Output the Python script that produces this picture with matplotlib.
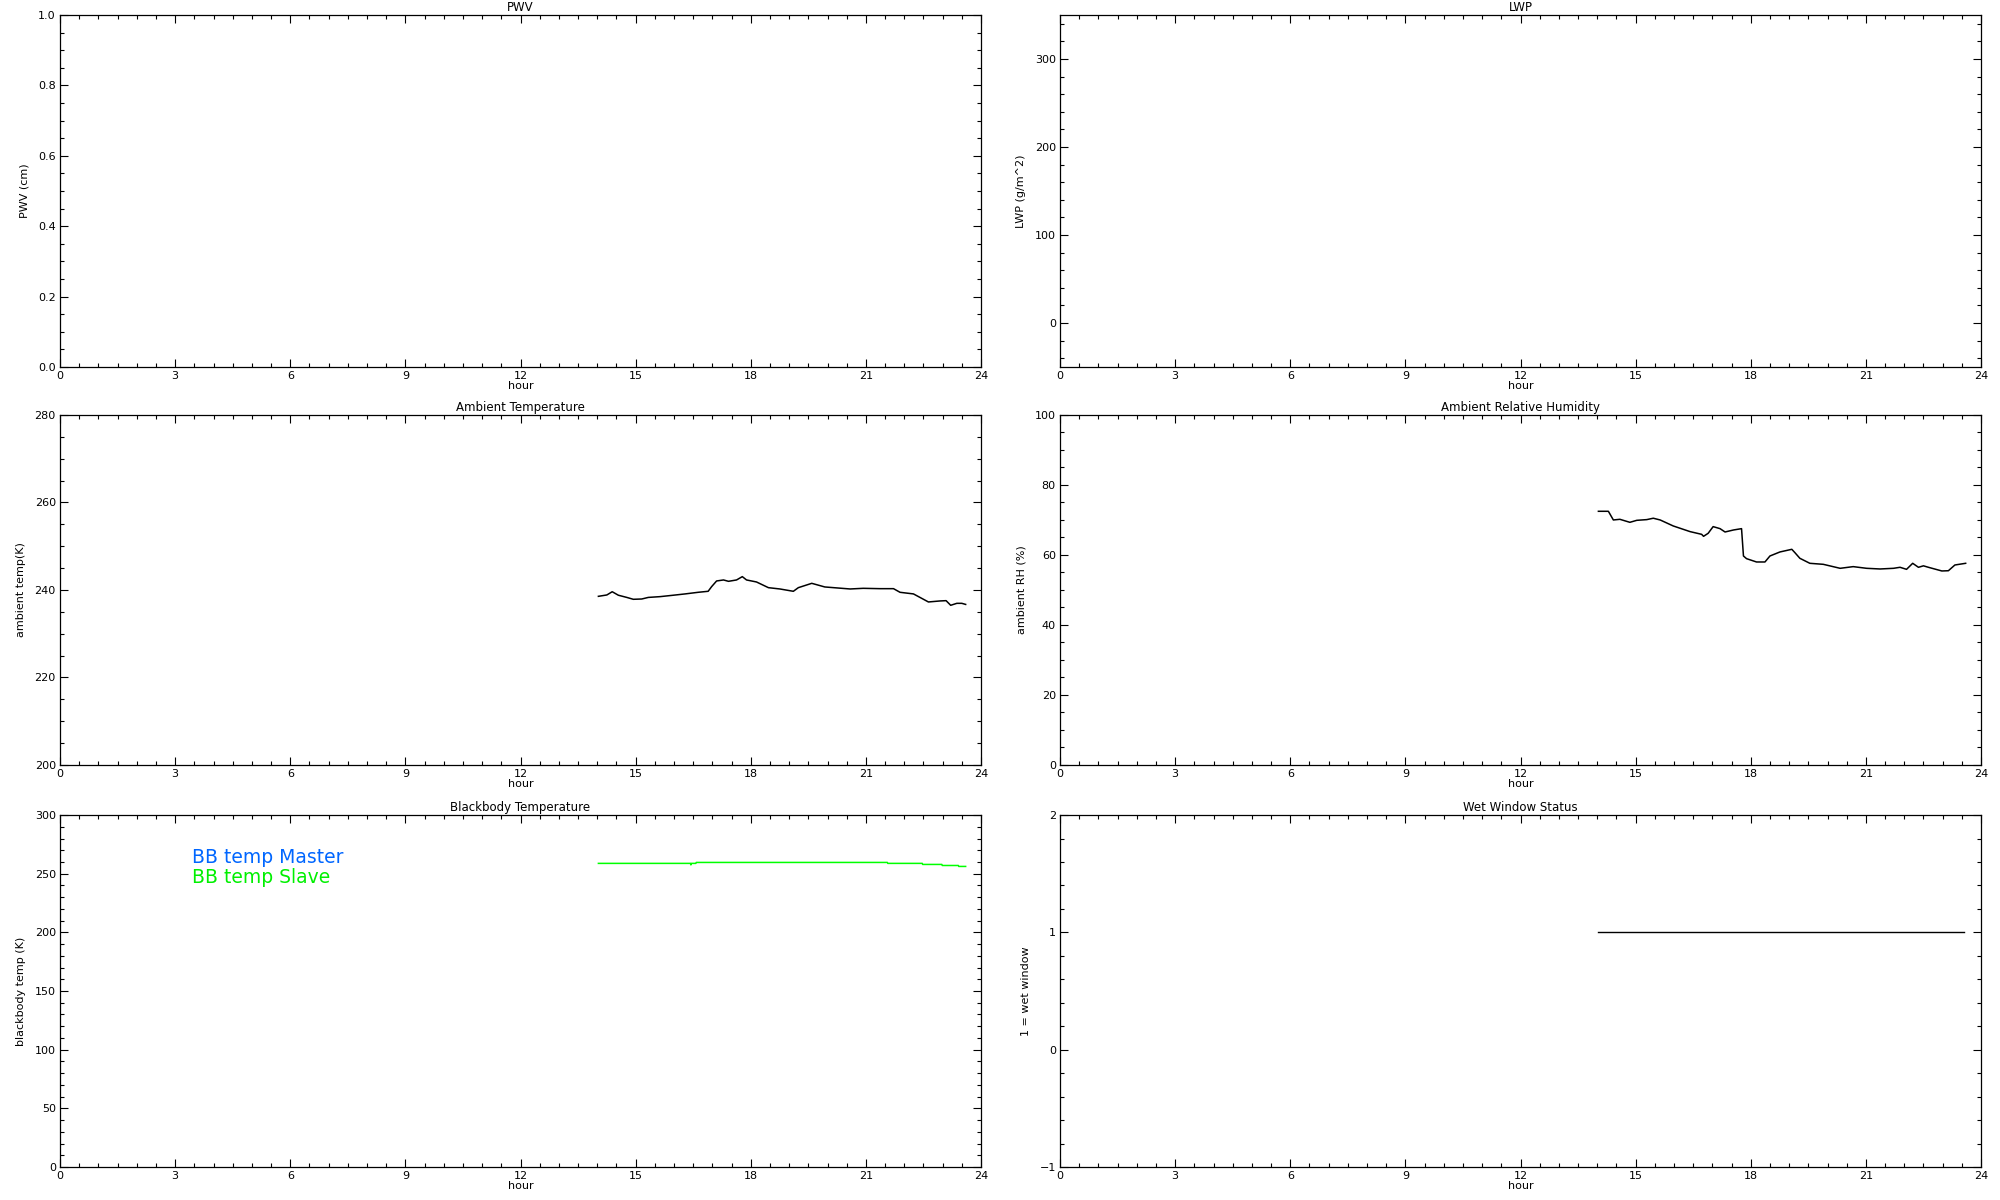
import matplotlib
matplotlib.use("Agg")
import matplotlib.pyplot as plt
from matplotlib.ticker import MultipleLocator, FixedLocator, FormatStrFormatter

plt.rcParams['font.family'] = ['DejaVu Sans']

# ---- data ----
temp_hours = [14.03, 14.25, 14.39, 14.55, 14.77, 14.94, 15.16, 15.33, 15.64, 15.98,
              16.29, 16.63, 16.89, 16.98, 17.11, 17.29, 17.42, 17.63, 17.78, 17.89,
              18.15, 18.46, 18.76, 19.11, 19.24, 19.59, 19.93, 20.59, 20.93, 21.37,
              21.72, 21.89, 22.24, 22.41, 22.63, 22.93, 23.09, 23.21, 23.37, 23.5, 23.6]
temp_values = [238.55, 238.86, 239.6, 238.8, 238.3, 237.87, 237.94, 238.3, 238.48, 238.8,
               239.1, 239.47, 239.7, 240.76, 242.06, 242.29, 241.98, 242.29, 243.05, 242.29,
               241.83, 240.53, 240.23, 239.7, 240.53, 241.52, 240.69, 240.23, 240.38, 240.3,
               240.3, 239.47, 239.1, 238.3, 237.26, 237.49, 237.56, 236.5, 236.95, 236.95, 236.7]

rh_hours = [14.03, 14.29, 14.42, 14.59, 14.85, 15.03, 15.29, 15.46, 15.64, 15.98,
            16.42, 16.72, 16.77, 16.89, 17.02, 17.2, 17.33, 17.55, 17.76, 17.81,
            17.89, 18.15, 18.37, 18.5, 18.76, 19.07, 19.15, 19.28, 19.54, 19.89,
            20.33, 20.67, 21.02, 21.37, 21.72, 21.89, 22.06, 22.22, 22.37, 22.5,
            22.63, 22.98, 23.15, 23.32, 23.6]
rh_values = [72.48, 72.48, 70.0, 70.19, 69.33, 69.9, 70.1, 70.5, 70.0, 68.29,
             66.67, 65.9, 65.33, 66.19, 68.1, 67.52, 66.57, 67.14, 67.52, 59.71,
             58.95, 58.0, 58.0, 59.71, 60.86, 61.62, 60.67, 59.05, 57.62, 57.33,
             56.19, 56.67, 56.19, 56.0, 56.19, 56.48, 55.9, 57.62, 56.48, 56.9,
             56.48, 55.43, 55.5, 57.14, 57.62]

bb_hours = [14.03, 16.43, 16.44, 16.45, 16.57, 16.58, 21.56, 21.57, 22.47, 22.48,
            22.98, 22.99, 23.41, 23.42, 23.6]
bb_slave = [258.8, 258.8, 257.5, 258.8, 258.8, 259.6, 259.6, 258.8, 258.8, 257.9,
            257.9, 257.0, 257.0, 256.2, 256.2]

wet_hours = [14.03, 23.57]
wet_values = [1, 1]

hour_ticks = [0, 3, 6, 9, 12, 15, 18, 21, 24]

panels = [
    # title, ylabel, ylim, major, minor, position
    ("PWV", "PWV (cm)", (0.0, 1.0), 0.2, 0.05, [0.030, 0.6942, 0.4605, 0.2933]),
    ("LWP", "LWP (g/m^2)", (-50, 350), 100, 20, [0.530, 0.6942, 0.4605, 0.2933]),
    ("Ambient Temperature", "ambient temp(K)", (200, 280), 20, 5, [0.030, 0.3625, 0.4605, 0.2917]),
    ("Ambient Relative Humidity", "ambient RH (%)", (0, 100), 20, 5, [0.530, 0.3625, 0.4605, 0.2917]),
    ("Blackbody Temperature", "blackbody temp (K)", (0, 300), 50, 10, [0.030, 0.0275, 0.4605, 0.2933]),
    ("Wet Window Status", "1 = wet window", (-1, 2), 1, 0.2, [0.530, 0.0275, 0.4605, 0.2933]),
]

fig = plt.figure(figsize=(20, 12), dpi=100)
axes = []
for title, ylabel, ylim, major, minor, pos in panels:
    ax = fig.add_axes(pos)
    ax.set_xlim(0, 24)
    ax.set_ylim(*ylim)
    ax.xaxis.set_major_locator(FixedLocator(hour_ticks))
    ax.xaxis.set_minor_locator(MultipleLocator(0.5))
    ax.yaxis.set_major_locator(MultipleLocator(major))
    ax.yaxis.set_minor_locator(MultipleLocator(minor))
    ax.tick_params(which='both', direction='in', top=True, right=True,
                   labelsize=8, width=0.8, pad=3)
    ax.tick_params(which='major', length=6)
    ax.tick_params(which='minor', length=3)
    for s in ax.spines.values():
        s.set_linewidth(0.9)
    ax.set_title(title, fontsize=8.5, pad=3)
    ax.set_ylabel(ylabel, fontsize=8, labelpad=6)
    ax.set_xlabel("hour", fontsize=8, labelpad=0)
    axes.append(ax)

axes[0].yaxis.set_major_formatter(FormatStrFormatter('%.1f'))

axes[2].plot(temp_hours, temp_values, color='black', lw=1.1)
axes[3].plot(rh_hours, rh_values, color='black', lw=1.1)
axes[4].plot(bb_hours, bb_slave, color='#00FF00', lw=1.1)
axes[5].plot(wet_hours, wet_values, color='black', lw=1.0)

axes[4].text(3.43, 264, "BB temp Master", color='#0066FF', fontsize=13.5, va='center', ha='left')
axes[4].text(3.43, 247, "BB temp Slave", color='#00F000', fontsize=13.5, va='center', ha='left')

fig.savefig("out.png", dpi=100, facecolor='white')
